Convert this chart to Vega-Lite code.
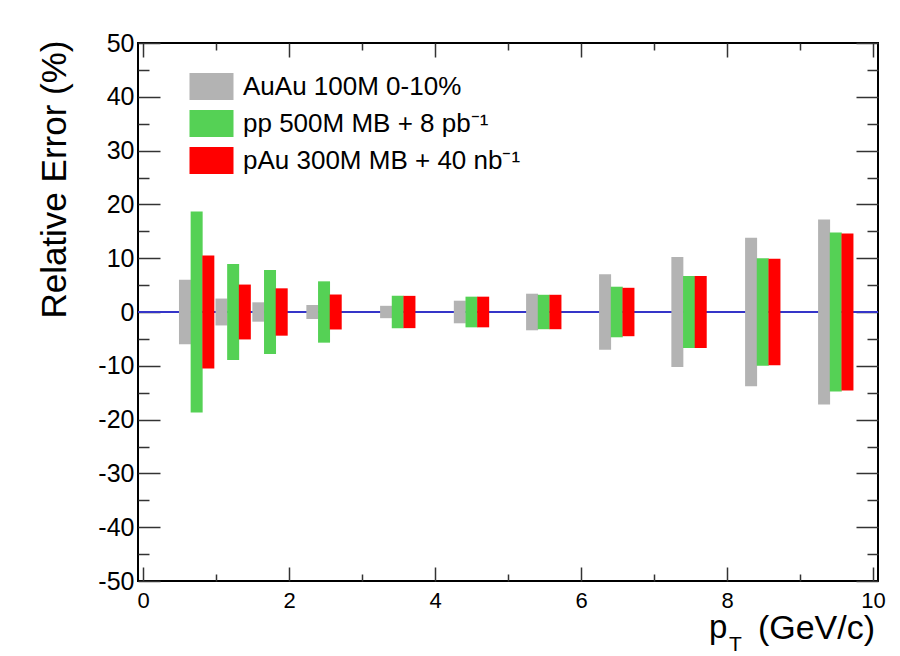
{
  "$schema": "https://vega.github.io/schema/vega-lite/v6.json",
  "width": 740,
  "height": 538,
  "autosize": {"type": "none"},
  "padding": {"left": 138, "top": 43, "right": 22, "bottom": 75},
  "background": "white",
  "config": {
    "font": "Liberation Sans",
    "view": {"stroke": "black", "strokeWidth": 2}
  },
  "data": {
    "values": [
      {"series": "AuAu 100M 0-10%", "pt": 0.575, "lo": -6.0, "hi": 6.0},
      {"series": "AuAu 100M 0-10%", "pt": 1.075, "lo": -2.5, "hi": 2.5},
      {"series": "AuAu 100M 0-10%", "pt": 1.58, "lo": -1.8, "hi": 1.8},
      {"series": "AuAu 100M 0-10%", "pt": 2.32, "lo": -1.3, "hi": 1.3},
      {"series": "AuAu 100M 0-10%", "pt": 3.33, "lo": -1.15, "hi": 1.15},
      {"series": "AuAu 100M 0-10%", "pt": 4.34, "lo": -2.1, "hi": 2.1},
      {"series": "AuAu 100M 0-10%", "pt": 5.33, "lo": -3.4, "hi": 3.4},
      {"series": "AuAu 100M 0-10%", "pt": 6.33, "lo": -7.0, "hi": 7.0},
      {"series": "AuAu 100M 0-10%", "pt": 7.32, "lo": -10.2, "hi": 10.2},
      {"series": "AuAu 100M 0-10%", "pt": 8.33, "lo": -13.8, "hi": 13.8},
      {"series": "AuAu 100M 0-10%", "pt": 9.33, "lo": -17.2, "hi": 17.2},
      {"series": "pp 500M MB + 8 pb⁻¹", "pt": 0.735, "lo": -18.7, "hi": 18.7},
      {"series": "pp 500M MB + 8 pb⁻¹", "pt": 1.235, "lo": -8.9, "hi": 8.9},
      {"series": "pp 500M MB + 8 pb⁻¹", "pt": 1.74, "lo": -7.8, "hi": 7.8},
      {"series": "pp 500M MB + 8 pb⁻¹", "pt": 2.48, "lo": -5.7, "hi": 5.7},
      {"series": "pp 500M MB + 8 pb⁻¹", "pt": 3.49, "lo": -3.0, "hi": 3.0},
      {"series": "pp 500M MB + 8 pb⁻¹", "pt": 4.5, "lo": -2.85, "hi": 2.85},
      {"series": "pp 500M MB + 8 pb⁻¹", "pt": 5.49, "lo": -3.2, "hi": 3.2},
      {"series": "pp 500M MB + 8 pb⁻¹", "pt": 6.49, "lo": -4.7, "hi": 4.7},
      {"series": "pp 500M MB + 8 pb⁻¹", "pt": 7.48, "lo": -6.7, "hi": 6.7},
      {"series": "pp 500M MB + 8 pb⁻¹", "pt": 8.49, "lo": -10.0, "hi": 10.0},
      {"series": "pp 500M MB + 8 pb⁻¹", "pt": 9.49, "lo": -14.8, "hi": 14.8},
      {"series": "pAu 300M MB + 40 nb⁻¹", "pt": 0.895, "lo": -10.5, "hi": 10.5},
      {"series": "pAu 300M MB + 40 nb⁻¹", "pt": 1.395, "lo": -5.1, "hi": 5.1},
      {"series": "pAu 300M MB + 40 nb⁻¹", "pt": 1.9, "lo": -4.4, "hi": 4.4},
      {"series": "pAu 300M MB + 40 nb⁻¹", "pt": 2.64, "lo": -3.25, "hi": 3.25},
      {"series": "pAu 300M MB + 40 nb⁻¹", "pt": 3.65, "lo": -3.0, "hi": 3.0},
      {"series": "pAu 300M MB + 40 nb⁻¹", "pt": 4.66, "lo": -2.85, "hi": 2.85},
      {"series": "pAu 300M MB + 40 nb⁻¹", "pt": 5.65, "lo": -3.2, "hi": 3.2},
      {"series": "pAu 300M MB + 40 nb⁻¹", "pt": 6.65, "lo": -4.5, "hi": 4.5},
      {"series": "pAu 300M MB + 40 nb⁻¹", "pt": 7.64, "lo": -6.7, "hi": 6.7},
      {"series": "pAu 300M MB + 40 nb⁻¹", "pt": 8.65, "lo": -9.9, "hi": 9.9},
      {"series": "pAu 300M MB + 40 nb⁻¹", "pt": 9.65, "lo": -14.6, "hi": 14.6}
    ]
  },
  "layer": [
    {
      "data": {"values": [{}]},
      "mark": {"type": "rule", "color": "#3535c8", "strokeWidth": 2},
      "encoding": {
        "y": {"datum": 0, "type": "quantitative", "scale": {"domain": [-50, 50], "nice": false}, "axis": null}
      }
    },
    {
      "mark": {"type": "bar", "size": 12},
      "encoding": {
        "x": {
          "field": "pt", "type": "quantitative",
          "scale": {"domain": [0, 10], "nice": false},
          "axis": {
            "orient": "bottom",
            "values": [0, 1, 2, 3, 4, 5, 6, 7, 8, 9, 10],
            "labelExpr": "datum.value % 2 === 0 ? '' + datum.value : ''",
            "tickSize": {"condition": {"test": "datum.value % 2 === 0", "value": -14}, "value": -7},
            "tickColor": "#333", "tickWidth": 1.5,
            "domain": false, "grid": false, "title": null,
            "labelFontSize": 22, "labelColor": "black", "labelPadding": 23,
            "labelFlush": false, "labelOverlap": false
          }
        },
        "y": {
          "field": "lo", "type": "quantitative",
          "scale": {"domain": [-50, 50], "nice": false},
          "axis": {
            "orient": "left",
            "values": [-50, -45, -40, -35, -30, -25, -20, -15, -10, -5, 0, 5, 10, 15, 20, 25, 30, 35, 40, 45, 50],
            "labelExpr": "datum.value % 10 === 0 ? '' + datum.value : ''",
            "tickSize": {"condition": {"test": "datum.value % 10 === 0", "value": -22}, "value": -11},
            "tickColor": "#333", "tickWidth": 1.5,
            "domain": false, "grid": false,
            "labelFontSize": 25, "labelColor": "black", "labelPadding": 26,
            "labelFlush": false, "labelOverlap": false,
            "title": "Relative Error (%)",
            "titleFontSize": 35, "titleFontWeight": "normal", "titleColor": "black",
            "titleAngle": 270, "titleAlign": "right", "titleBaseline": "alphabetic",
            "titleX": -73, "titleY": -3
          }
        },
        "y2": {"field": "hi"},
        "color": {
          "field": "series", "type": "nominal",
          "scale": {
            "domain": ["AuAu 100M 0-10%", "pp 500M MB + 8 pb⁻¹", "pAu 300M MB + 40 nb⁻¹"],
            "range": ["#b3b3b3", "#55d155", "#ff0000"]
          },
          "legend": {
            "orient": "none", "legendX": 60, "legendY": 30,
            "title": null,
            "symbolType": "M-1.63,-1H1.63V1H-1.63Z",
            "symbolSize": 729, "symbolStrokeWidth": 0, "symbolOpacity": 1,
            "labelFontSize": 26, "labelColor": "black", "labelOffset": 18,
            "rowPadding": 10, "padding": 0, "labelLimit": 400
          }
        }
      }
    },
    {
      "mark": {"type": "point", "opacity": 0},
      "encoding": {
        "x": {
          "field": "pt", "type": "quantitative",
          "scale": {"domain": [0, 10], "nice": false},
          "axis": {
            "orient": "top",
            "values": [0, 1, 2, 3, 4, 5, 6, 7, 8, 9, 10],
            "labels": false,
            "tickSize": {"condition": {"test": "datum.value % 2 === 0", "value": -14}, "value": -7},
            "tickColor": "#333", "tickWidth": 1.5,
            "domain": false, "grid": false, "title": null
          }
        },
        "y": {
          "field": "hi", "type": "quantitative",
          "scale": {"domain": [-50, 50], "nice": false},
          "axis": {
            "orient": "right",
            "values": [-50, -45, -40, -35, -30, -25, -20, -15, -10, -5, 0, 5, 10, 15, 20, 25, 30, 35, 40, 45, 50],
            "labels": false,
            "tickSize": {"condition": {"test": "datum.value % 10 === 0", "value": -22}, "value": -11},
            "tickColor": "#333", "tickWidth": 1.5,
            "domain": false, "grid": false, "title": null
          }
        }
      }
    },
    {
      "data": {"values": [{}]},
      "mark": {"type": "text", "text": "p", "align": "left", "baseline": "alphabetic", "dx": -164, "dy": 57, "fontSize": 33, "color": "black"},
      "encoding": {
        "x": {"datum": 10, "type": "quantitative", "axis": null},
        "y": {"datum": -50, "type": "quantitative", "axis": null}
      }
    },
    {
      "data": {"values": [{}]},
      "mark": {"type": "text", "text": "T", "align": "left", "baseline": "alphabetic", "dx": -144, "dy": 70, "fontSize": 21, "color": "black"},
      "encoding": {
        "x": {"datum": 10, "type": "quantitative", "axis": null},
        "y": {"datum": -50, "type": "quantitative", "axis": null}
      }
    },
    {
      "data": {"values": [{}]},
      "mark": {"type": "text", "text": "(GeV/c)", "align": "right", "baseline": "alphabetic", "dx": 2, "dy": 58, "fontSize": 34, "color": "black"},
      "encoding": {
        "x": {"datum": 10, "type": "quantitative", "axis": null},
        "y": {"datum": -50, "type": "quantitative", "axis": null}
      }
    }
  ],
  "resolve": {"axis": {"x": "independent", "y": "independent"}}
}
